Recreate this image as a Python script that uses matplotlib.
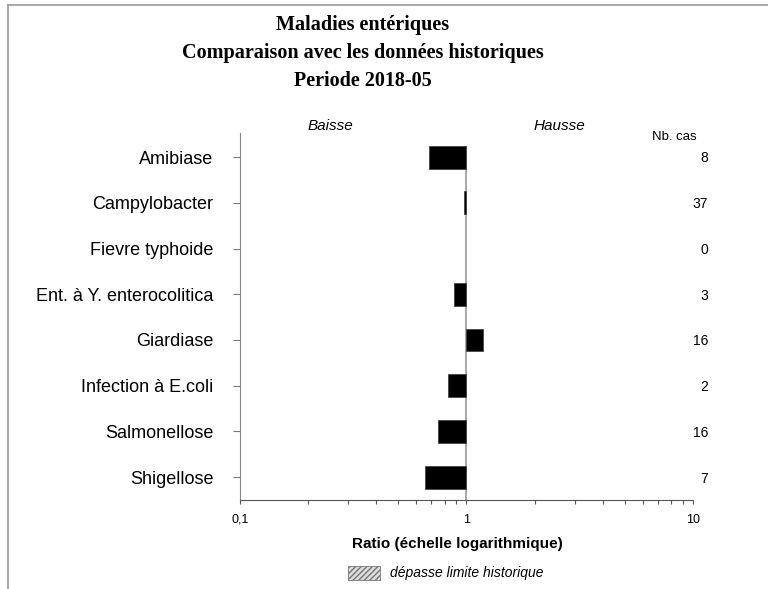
import matplotlib.pyplot as plt
from matplotlib.lines import Line2D
from matplotlib.patches import Rectangle
from matplotlib.ticker import FixedLocator, FixedFormatter, LogLocator, NullFormatter

plt.rcParams['font.family'] = ['Liberation Sans', 'DejaVu Sans']

# data
maladies = ['Amibiase', 'Campylobacter', 'Fievre typhoide', 'Ent. à Y. enterocolitica',
            'Giardiase', 'Infection à E.coli', 'Salmonellose', 'Shigellose']
ratios = [0.68, 0.975, None, 0.885, 1.185, 0.83, 0.75, 0.655]
nb_cas = [8, 37, 0, 3, 16, 2, 16, 7]

fig = plt.figure(figsize=(7.68, 5.89), dpi=100)
ax = fig.add_axes([0.3125, 0.1511, 0.5898, 0.6229])

# bars start at ratio 1
for i, r in enumerate(ratios):
    if r is None:
        continue
    ax.barh(i, r - 1, left=1, height=0.5, color='black', edgecolor='#444444', linewidth=0.6)

ax.vlines(1, -0.25, 7.5, color='#999999', linewidth=1.2, zorder=0)

ax.set_xscale('log')
ax.set_xlim(0.1, 10)
ax.set_ylim(7.5, -0.525)

ax.xaxis.set_major_locator(FixedLocator([0.1, 1, 10]))
ax.xaxis.set_major_formatter(FixedFormatter(['0,1', '1', '10']))
ax.xaxis.set_minor_locator(LogLocator(base=10, subs=range(2, 10)))
ax.xaxis.set_minor_formatter(NullFormatter())
ax.tick_params(axis='x', which='both', length=3, width=0.8, color='#555555',
               labelsize=9, pad=7)

ax.set_yticks(range(len(maladies)))
ax.set_yticklabels(maladies, fontsize=13)
ax.tick_params(axis='y', length=5, width=0.8, color='#777777', pad=14)

for s in ['top', 'right']:
    ax.spines[s].set_visible(False)
ax.spines['left'].set_color('#888888')
ax.spines['bottom'].set_color('#555555')

# nombre de cas, right column
for i, n in enumerate(nb_cas):
    ax.text(1.033, i + 0.03, str(n), transform=ax.get_yaxis_transform(), ha='right',
            va='center', fontsize=10)
fig.text(0.9075, 0.767, 'Nb. cas', ha='right', va='center', fontsize=9.5)

fig.text(0.4297, 0.786, 'Baisse', ha='center', va='center', fontsize=11, style='italic')
fig.text(0.729, 0.786, 'Hausse', ha='center', va='center', fontsize=11, style='italic')

fig.suptitle('Maladies entériques\nComparaison avec les données historiques\nPeriode 2018-05',
             y=0.975, va='top', fontsize=14.5, fontweight='bold', family='Liberation Serif',
             linespacing=1.55, x=0.472)

fig.text(0.595, 0.0764, 'Ratio (échelle logarithmique)', ha='center', va='center',
         fontsize=11, fontweight='bold')

# legend patch
fig.patches.append(Rectangle((348 / 768, 1 - 580 / 589), 32 / 768, 14 / 589,
                             transform=fig.transFigure, facecolor='#dddddd',
                             edgecolor='#777777', hatch='//////', linewidth=0.6))
fig.text(390 / 768, 1 - 573 / 589, 'dépasse limite historique', ha='left', va='center',
         fontsize=10, style='italic')

# frame lines on the page
fig.add_artist(Line2D([8 / 768, 8 / 768], [0, 1 - 5 / 589], color='#999999', linewidth=1.2))
fig.add_artist(Line2D([8 / 768, 1], [1 - 5 / 589, 1 - 5 / 589], color='#999999', linewidth=1.2))

fig.savefig('out.png', dpi=100)
